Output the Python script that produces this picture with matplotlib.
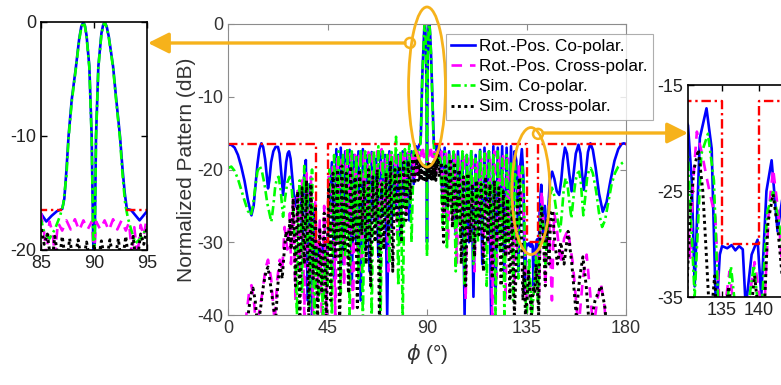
import numpy as np
import matplotlib
matplotlib.use('Agg')
import matplotlib.pyplot as plt
from matplotlib.patches import Ellipse, FancyArrowPatch

plt.rcParams['font.family'] = ['Liberation Sans', 'DejaVu Sans']
plt.rcParams['axes.unicode_minus'] = False

# ---------------- data ----------------
labels = ['Rot.-Pos. Co-polar.', 'Rot.-Pos. Cross-polar.', 'Sim. Co-polar.', 'Sim. Cross-polar.']

# sampling grids of the dense side-lobe regions (deg)
co_grid1 = np.arange(36, 85, 1.0)
co_grid2 = np.arange(96, 130, 1.0)
cx_grid1 = np.arange(28.5, 85, 1.0)
cx_grid2 = np.arange(95.5, 130, 1.0)

# --- Rot.-Pos. Co-polar (blue)
rco_phi_a = [0, 1.5, 3, 4.5, 6, 7.5, 9, 10.6, 11.6, 12.5, 13.3, 14.2, 15.1, 15.9, 16.8, 17.5, 18.1, 18.7, 19.5,
             20.5, 21.5, 22.6, 23.3, 24.1, 24.9, 25.6, 26.3, 27.0, 27.6, 28.3, 29.2, 30.2, 31.2, 32.4, 33.0,
             33.6, 34.3, 35.2]
rco_db_a = [-16.6, -16.6, -17.0, -18.0, -19.6, -21.6, -24.2, -26.3, -25, -22, -19.3, -17.2, -16.4, -16.9, -18.6,
            -20.7, -22.6, -21.5, -19, -17.5, -16.9, -16.9, -17.8, -20.5, -23.5, -21.5, -19, -17.8, -17.5,
            -18.5, -21.5, -25.1, -23.5, -22.6, -24, -30, -21.5, -18.7]
rco_db_d1 = [-38, -22, -40, -25, -33, -30.5, -31, -30.5, -34, -30.5,
             -24, -19, -35, -17.2, -28, -17, -33, -17.5, -26, -17.3,
             -36, -18, -30, -17.5, -38, -17.2, -31, -18, -34, -17.6,
             -27, -18.5, -32, -17.5, -26, -18, -40, -17.5, -28, -19,
             -25, -18, -30, -17.5, -24, -17.8, -27, -17.5, -22]
rco_phi_c = [85.0, 85.5, 86.0, 86.5, 87.0, 87.2, 87.4, 87.6, 87.9, 88.3, 88.6, 88.8, 89.0, 89.15, 89.3, 89.56,
             89.78, 89.94, 90.0, 90.06, 90.19, 90.41, 90.7, 90.85, 91.0, 91.2, 91.4, 91.8, 92.1, 92.45, 92.7,
             92.9, 93.1, 93.5, 94.3, 95.0]
rco_db_c = [-16.8, -17.5, -17.0, -16.6, -16.4, -15.5, -13, -10, -6.8, -3.9, -1.5, -0.4, 0, -0.35, -1.2, -3.9,
            -10, -20, -30, -20, -10, -3.9, -1.0, -0.3, 0, -0.4, -1.3, -3.9, -6.8, -10, -13,
            -15, -16.4, -16.5, -17.4, -16.6]
rco_db_d2 = [-17.5, -24, -17, -27, -17.5, -22, -17.8, -29, -17.5, -25,
             -17.8, -40, -18, -30, -17.5, -37.5, -18, -28, -17.3, -33,
             -17, -26, -17.5, -40, -16.8, -38, -17, -27, -16.8, -35,
             -17, -29, -16.8, -30]
rco_phi_e = [129.6, 130.4, 130.9, 131.3, 132.0, 132.9, 133.6, 134.2, 134.7, 135.0, 135.7, 136.3, 136.8, 137.3,
             137.8, 138.2, 139.0, 139.8, 140.3, 141.0, 141.7, 142.5, 143.3, 144.2, 144.8, 145.6, 146.6, 147.6,
             148.7, 149.8, 150.7, 151.5, 152.4, 153.3, 154.3, 155.4, 156.3, 157.3, 158.5, 159.4, 160.1, 160.9,
             161.8, 162.8, 163.9, 165.0, 166.3, 167.8, 169.5, 171.2, 173.0, 174.8, 176.5, 178.0, 179.0, 180]
rco_db_e = [-17.5, -18.8, -24, -34, -20, -17.2, -21, -37, -31, -30.2, -30.4, -30.1, -30.6, -30.2,
            -30.5, -36, -31, -29.6, -35, -25, -22.1, -28.8, -25, -31, -25.5, -21.5, -20.3, -21.3,
            -23.0, -23.5, -21.5, -18.8, -17.0, -17.8, -20.5, -23.0, -20.5, -17.8, -16.6, -17.8, -20.5, -22.8,
            -20.5, -17.6, -16.4, -17.3, -19.8, -23.3, -25.8, -24.5, -21.5, -18.8, -17.2, -16.5, -16.4, -16.5]

# --- Rot.-Pos. Cross-polar (magenta)
rcx_phi_a = [0, 7, 8.3, 9.5, 10.6, 11.7, 12.8, 15.5, 17, 18.1, 19.5, 21.1, 22.3, 23.4, 24.5, 25.6, 26.8, 28.0]
rcx_db_a = [-48, -45, -40, -37, -35.9, -38, -42, -37, -33.5, -32.4, -35, -41, -35, -32.4, -34, -27.9, -31, -26]
rcx_db_d1 = [-33, -23.5, -38, -22.5, -34, -21.5, -40, -20.5, -36, -21,
             -41, -24, -38, -27, -42, -25, -40, -21, -33, -19,
             -40, -18.5, -30, -18, -36, -17.5, -29, -17.8, -41, -18,
             -31, -17.5, -34, -17.2, -28, -17.6, -32, -17.3, -27, -17.5,
             -30, -17.2, -26, -18, -34, -17.3, -25, -17.5, -29, -17.8,
             -24, -17.4, -26, -17.6, -23, -17.5, -21]
rcx_phi_c = [85.0, 85.3, 85.5, 85.8, 86.1, 86.3, 86.6, 87.0, 87.4, 87.8, 88.2, 88.6, 89.0, 89.4, 89.8, 90.0,
             90.2, 90.6, 91.0, 91.4, 91.8, 92.2, 92.6, 93.0, 93.3, 93.6, 93.8, 94.1, 94.4, 94.7, 95.0]
rcx_db_c = [-16.8, -18.5, -20.5, -17.5, -18.5, -20.5, -17.6, -18.3, -17.4, -18.2, -17.3, -18.3, -17.4, -18.2, -17.5, -20.5,
            -17.5, -18.2, -17.4, -18.3, -17.3, -18.2, -17.4, -18.3, -17.6, -20.5, -18, -20.5, -17.8, -18.8, -17.0]
rcx_db_d2 = [-19, -17.5, -26, -17.3, -30, -18, -27, -17.5, -33, -18.2,
             -28, -17.8, -38, -18.5, -29, -18, -34, -19, -27, -18.5,
             -32, -17.8, -30, -18.2, -40, -17.5, -35, -18, -29, -17.8,
             -38, -18.5, -31, -19, -36]
rcx_phi_e = [130.2, 130.7, 131.1, 131.6, 132.3, 133.0, 133.6, 134.1, 134.8, 135.4, 136.0, 136.6, 137.2, 138.0,
             138.7, 139.4, 140.1, 140.6, 141.3, 141.9, 142.6, 143.5, 145.0, 146.5, 147.5, 148.5, 150.5, 152.0,
             153.7, 156.0, 158.5, 160.5, 162.2, 163.8, 165.2, 167.0, 168.5, 170.0, 171.5, 175, 180]
rcx_db_e = [-27, -31.3, -24, -19.4, -21.5, -24, -26, -27.5, -38, -36, -32.6, -36, -40, -38,
            -35, -31.7, -35, -38, -27, -22.9, -27, -36, -25, -38, -26, -27.5, -33, -29.5,
            -28.3, -33, -42, -35, -31.7, -37, -42, -38, -35.6, -38, -43, -48, -50]

# --- Sim. Co-polar (green)
sco_phi_a = [0, 1.5, 3, 4.5, 6, 7.5, 9, 10.3, 11.3, 12.3, 13.3, 14.3, 15.3, 16.5, 17.8, 19.6, 20.5, 21.3, 22.1,
             22.9, 23.8, 24.9, 25.8, 26.8, 27.9, 28.8, 29.5, 30.5, 31.2, 31.8, 32.4, 33.0, 33.5, 34.0, 34.5, 35.3]
sco_db_a = [-19.8, -19.6, -20.2, -21.3, -22.8, -24.3, -25.7, -26.3, -25, -22.5, -20.3, -19.5, -20.2, -22, -24.7,
            -27.2, -25, -22.5, -21.2, -21.0, -22.8, -26.5, -24, -21.8, -21, -22.5, -25.5, -32, -40, -26,
            -21.5, -26, -37, -25, -19.5, -30]
sco_db_d1 = [-22, -39, -20, -41, -31, -38, -32, -40, -31.5, -36,
             -20, -40, -18, -30, -17.5, -37, -18, -32, -17, -40,
             -17.5, -29, -18, -35, -17.2, -41, -17.5, -30, -18, -40,
             -17.5, -28, -16.8, -41, -17.5, -27, -18, -33, -17.6, -26,
             -15.5, -36, -17.5, -41, -17.2, -25, -16.5, -30, -17.5]
sco_phi_c = [85.0, 85.3, 85.8, 86.3, 86.8, 87.1, 87.4, 87.6, 87.9, 88.3, 88.6, 88.8, 89.0, 89.15, 89.3, 89.56,
             89.78, 89.94, 90.0, 90.06, 90.19, 90.41, 90.7, 90.85, 91.0, 91.2, 91.4, 91.8, 92.1, 92.45, 92.7,
             92.95, 93.2, 93.5, 93.9, 94.4, 95.0]
sco_db_c = [-17.3, -18.5, -19.0, -18.2, -17.0, -16.0, -13.5, -10.2, -7, -4, -1.6, -0.5, 0, -0.4, -1.3, -4,
            -10.2, -20, -32, -20, -10.2, -4, -1.1, -0.4, 0, -0.5, -1.4, -4, -7, -10.2, -13.5,
            -16, -17.2, -18.2, -19.4, -19, -18]
sco_db_d2 = [-18.5, -28, -17.5, -31, -17.8, -26, -17.5, -34, -18, -29,
             -17.5, -36, -18, -27, -17.2, -33, -18.5, -30, -17.5, -28,
             -17.8, -36, -17.5, -29, -18, -40, -17.5, -31, -18.5, -40,
             -18, -30, -19, -38]
sco_phi_e = [129.7, 130.4, 131.3, 132.2, 133.1, 133.9, 134.6, 135.1, 136.2, 137.4, 138.3, 139.3, 140.2, 141.1,
             141.9, 142.7, 143.6, 144.5, 145.5, 146.5, 147.5, 148.4, 149.4, 150.2, 151.0, 151.9, 152.7, 153.5,
             154.4, 155.3, 156.2, 157.2, 158.1, 158.8, 159.5, 160.1, 160.7, 161.5, 162.4, 163.3, 164.0, 165.0,
             166.5, 167.8, 169.2, 170.5, 172.0, 173.5, 175.0, 176.5, 178.3, 180]
sco_db_e = [-19, -21.8, -35, -21.5, -19.6, -24, -38, -40, -32.1, -40, -37, -32, -38, -27,
            -25.1, -28, -33, -28, -24, -22.5, -23.5, -25.5, -27.5, -28.5, -26, -22.5, -21.2, -22,
            -24.5, -26.7, -24, -21.5, -20.5, -20.3, -21.5, -24, -26.3, -24, -21.2, -20, -19.8, -20.5,
            -23, -26, -27.9, -27, -24.5, -22, -20.5, -19.6, -19.1, -18.8]

# --- Sim. Cross-polar (black)
scx_phi_a = [0, 8, 9.5, 10.5, 11.3, 12.3, 13.5, 16, 17.2, 18.1, 19.3, 21.5, 22.5, 23.5, 24.5, 25.5, 26.3, 27.2, 28.0]
scx_db_a = [-48, -43, -39, -37, -36.3, -38, -42, -36, -34, -33.4, -36, -41, -36, -33, -35, -31, -28.5, -30, -27]
scx_db_d1 = [-31, -24, -36, -23, -40, -22.5, -33, -21.5, -41, -22,
             -35, -25, -41, -28, -37, -26, -42, -22, -38, -20.5,
             -32, -20, -42, -19.5, -31, -20.5, -37, -19.5, -30, -21,
             -39, -20, -29, -21.5, -33, -20, -36, -21, -30, -20,
             -41, -22, -31, -20.5, -29, -19, -34, -20, -27, -19.5,
             -30, -19, -27, -18.8, -24, -18.5, -22]
scx_phi_c = [85.0, 85.3, 85.6, 86.0, 86.3, 86.7, 87.0, 87.4, 87.7, 88.1, 88.5, 88.9, 89.3, 89.7, 90.0,
             90.3, 90.7, 91.1, 91.5, 91.9, 92.3, 92.6, 93.0, 93.3, 93.7, 94.0, 94.4, 94.7, 95.0]
scx_db_c = [-18, -19.5, -18.6, -21.5, -18.8, -21.2, -18.8, -21.5, -19, -21.3, -19.1, -21.4, -19.3, -21.5, -19.5,
            -21.5, -19.2, -21.4, -19.1, -21.3, -19, -21.5, -18.8, -21.2, -18.8, -21.5, -18.6, -19.5, -18]
scx_db_d2 = [-21, -19, -30, -19.5, -25, -18.5, -28, -19, -27, -20,
             -33, -21, -36, -20.5, -30, -22, -32, -21.5, -29, -22,
             -34, -21, -30, -22, -35, -21.5, -31, -22.5, -36, -23,
             -32, -24, -38, -25, -40]
scx_phi_e = [130.2, 130.7, 131.2, 131.8, 132.4, 132.8, 133.4, 134.0, 134.5, 135.2, 135.9, 136.5, 137.2, 138.0,
             138.8, 139.4, 140.0, 140.5, 141.2, 141.9, 142.6, 143.5, 144.3, 145.2, 146.0, 146.8, 147.8, 149.0,
             150.5, 152.0, 153.8, 155.5, 157.5, 159.0, 160.5, 162.0, 163.5, 166.0, 168.7, 170.5, 172, 176, 180]
scx_db_e = [-35, -27, -23, -21.1, -25, -30, -38, -33, -40, -38, -34, -37, -40, -36,
            -37, -33, -37, -40, -28, -25.3, -29, -36, -27, -33, -26, -25.6, -30, -33,
            -30, -33, -28.5, -33, -40, -35, -32, -36, -42, -38, -36, -39, -45, -48, -50]

# side-lobe mask (red)
mask_phi = [0, 40, 40, 45, 45, 87, np.nan, 93, 135, 135, 140, 140, 180]
mask_db = [-16.5, -16.5, -30, -30, -16.5, -16.5, np.nan, -16.5, -16.5, -30, -30, -16.5, -16.5]


def build(pa, da, g1, d1, pc, dc, g2, d2, pe, de):
    phi = np.concatenate([pa, g1, pc, g2, pe])
    db = np.concatenate([da, d1, dc, d2, de])
    return phi, db


series = [
    build(rco_phi_a, rco_db_a, co_grid1, rco_db_d1, rco_phi_c, rco_db_c, co_grid2, rco_db_d2, rco_phi_e, rco_db_e),
    build(rcx_phi_a, rcx_db_a, cx_grid1, rcx_db_d1, rcx_phi_c, rcx_db_c, cx_grid2, rcx_db_d2, rcx_phi_e, rcx_db_e),
    build(sco_phi_a, sco_db_a, co_grid1, sco_db_d1, sco_phi_c, sco_db_c, co_grid2, sco_db_d2, sco_phi_e, sco_db_e),
    build(scx_phi_a, scx_db_a, cx_grid1, scx_db_d1, scx_phi_c, scx_db_c, cx_grid2, scx_db_d2, scx_phi_e, scx_db_e),
]

styles = [
    dict(color='#0000ff', lw=1.9, ls='-'),
    dict(color='#ff00ff', lw=1.9, dashes=(4.0, 3.0)),
    dict(color='#00ff00', lw=1.9, dashes=(3.5, 1.4, 0.9, 1.4)),
    dict(color='#000000', lw=2.1, dashes=(1.0, 1.2)),
]
mask_style = dict(color='#ff0000', lw=1.7, dashes=(4.0, 1.6, 1.0, 1.6))

W, H = 781, 385
fig = plt.figure(figsize=(W / 100, H / 100), dpi=100)


def frac(x0, y0, x1, y1):
    return [x0 / W, 1 - y1 / H, (x1 - x0) / W, (y1 - y0) / H]


gray = '#8c8c8c'
ax = fig.add_axes(frac(228, 24, 626, 315))
for (phi, db), st, lab in zip(series, styles, labels):
    ax.plot(phi, db, label=lab, **st)
ax.plot(mask_phi, mask_db, **mask_style)
ax.set_xlim(0, 180)
ax.set_ylim(-40, 0)
ax.set_xticks([0, 45, 90, 135, 180])
ax.set_yticks([-40, -30, -20, -10, 0])
ax.tick_params(direction='in', length=4, width=0.8, top=True, right=True,
               colors=gray, labelcolor='#333333', labelsize=13)
for s in ax.spines.values():
    s.set_color(gray)
    s.set_linewidth(0.8)
ax.set_xlabel(r'$\phi$ (°)', fontsize=15, color='#333333', labelpad=4)
ax.set_ylabel('Normalized Pattern (dB)', fontsize=15, color='#333333', labelpad=1)

leg = ax.legend(loc='upper right', bbox_to_anchor=(653 / W, 1 - 34 / H), bbox_transform=fig.transFigure,
                fontsize=12.3, frameon=True, fancybox=False, borderaxespad=0, handlelength=1.4,
                handletextpad=0.25, labelspacing=0.3, borderpad=0.3)
leg.get_frame().set_edgecolor('#9a9a9a')
leg.get_frame().set_linewidth(0.8)


def inset(rect, xlim, ylim, xt, yt):
    a = fig.add_axes(rect)
    for (phi, db), st in zip(series, styles):
        a.plot(phi, db, **st)
    a.plot(mask_phi, mask_db, **mask_style)
    a.set_xlim(*xlim)
    a.set_ylim(*ylim)
    a.set_xticks(xt)
    a.set_yticks(yt)
    a.tick_params(direction='in', length=4, width=1.0, top=True, right=True,
                  labelsize=13, colors='black', labelcolor='#222222')
    for s in a.spines.values():
        s.set_color('black')
        s.set_linewidth(1.2)
    return a


axl = inset(frac(41, 22, 147, 250), (85, 95), (-20, 0), [85, 90, 95], [-20, -10, 0])
axr = inset(frac(688, 85, 688 + 19.6 * 7.4, 297), (130.4, 150), (-35, -15), [135, 140], [-35, -25, -15])

# orange annotations
orange = '#F6B21B'
ax.add_patch(Ellipse((90, -8.66), 16.7, 22.0, fill=False, ec=orange, lw=2.0, clip_on=False, zorder=10))
ax.add_patch(Ellipse((82.3, -2.6), 4.5, 1.37, fill=False, ec=orange, lw=1.8, clip_on=False, zorder=10))
ax.add_patch(Ellipse((137.0, -22.96), 17.2, 17.46, fill=False, ec=orange, lw=2.0, clip_on=False, zorder=10))
ax.add_patch(Ellipse((140.2, -15.1), 4.5, 1.37, fill=False, ec=orange, lw=1.8, clip_on=False, zorder=10))

arrow_kw = dict(arrowstyle='-|>,head_length=0.9,head_width=0.45', color=orange, lw=2.4,
                shrinkA=0, shrinkB=0, mutation_scale=14)
fig.add_artist(FancyArrowPatch((405 / W, 1 - 43 / H), (148 / W, 1 - 43 / H),
                               transform=fig.transFigure, **arrow_kw))
fig.add_artist(FancyArrowPatch((543 / W, 1 - 133 / H), (688 / W, 1 - 133 / H),
                               transform=fig.transFigure, **arrow_kw))

fig.savefig('out.png', dpi=100)
